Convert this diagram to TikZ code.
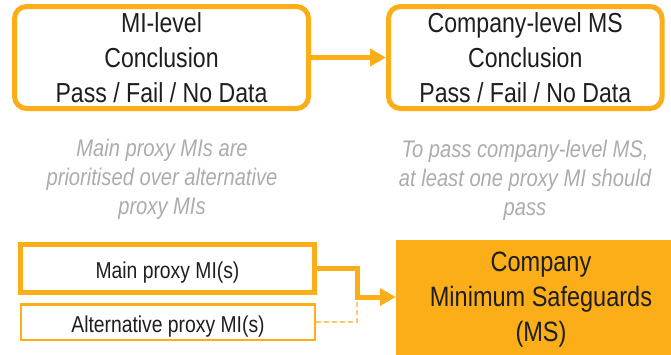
\documentclass[tikz,border=0pt]{standalone}
\usepackage{fontspec}
\setmainfont{Liberation Sans}[FakeStretch=0.84]
\usetikzlibrary{arrows.meta,calc}
\definecolor{msorange}{RGB}{252,174,24}
\definecolor{lightorange}{RGB}{252,200,120}
\definecolor{notegrey}{RGB}{172,172,172}
\definecolor{txt}{RGB}{30,30,30}
\tikzset{
  stagebox/.style={draw=msorange, line width=5pt, rounded corners=12pt,
    minimum width=294pt, minimum height=102pt, align=center, text=txt,
    inner sep=0pt, font=\fontsize{27.5}{35}\selectfont},
  notetext/.style={align=center, text=notegrey, inner sep=0pt,
    font=\fontsize{24}{29}\selectfont\itshape},
  proxybox/.style={draw=msorange, minimum width=294pt, align=center,
    text=txt, inner sep=0pt, font=\fontsize{23}{26}\selectfont,
    text height=21pt, text depth=1pt},
  flow/.style={draw=msorange, line width=5pt,
    -{Triangle[length=16pt,width=17pt]}},
}
\begin{document}
\begin{tikzpicture}[x=1pt,y=-1pt]
\useasboundingbox (0,0) rectangle (671,354);

% top row: conclusion levels
\node[stagebox] (mi) at (161.5,57.5) {MI-level\\Conclusion\\Pass / Fail / No Data};
\node[stagebox, minimum width=273.5pt] (co) at (525.25,57.5) {Company-level MS\\Conclusion\\Pass / Fail / No Data};
\draw[flow] (mi.east) -- (co.west);

% explanatory notes
\node[notetext] (noteL) at (162,179) {Main proxy MIs are\\prioritised over alternative\\proxy MIs};
\node[notetext] (noteR) at (525,180) {To pass company-level MS,\\at least one proxy MI should\\pass};

% bottom row: proxy inputs feeding the safeguards box
\node[proxybox, line width=5pt, minimum height=48pt] (main) at (167.5,268.5) {Main proxy MI(s)};
\node[proxybox, line width=2.5pt, minimum height=35.5pt] (alt) at (168,322) {Alternative proxy MI(s)};
\node[fill=msorange, minimum width=290pt, minimum height=120pt, inner sep=0pt,
      align=center, text=txt, font=\fontsize{28}{35}\selectfont]
      (ms) at (541,300) {Company\\Minimum Safeguards\\(MS)};

\coordinate (joint) at (357,297);
\draw[draw=lightorange, line width=2pt, dash pattern=on 5pt off 3pt] (alt.east) -| (joint);
\draw[flow] (main.east) -| (joint) -- (joint -| ms.west);
\end{tikzpicture}
\end{document}
